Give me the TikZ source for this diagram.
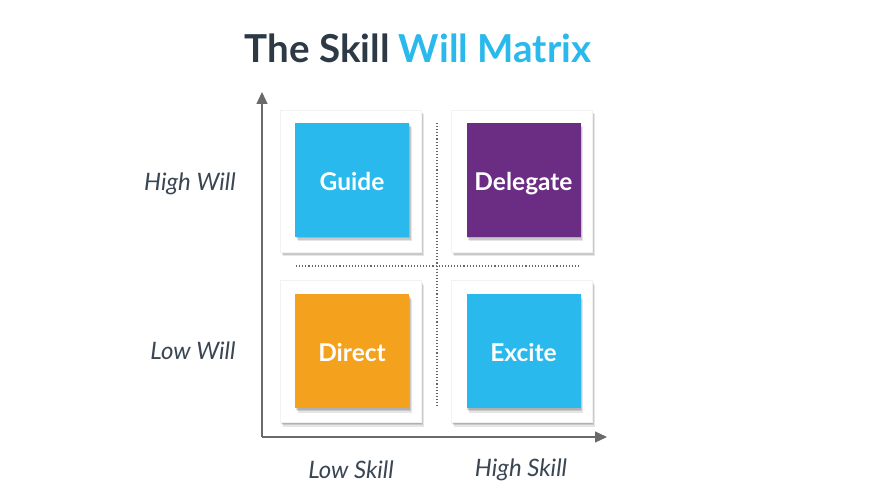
\documentclass[tikz,border=0pt]{standalone}
\usepackage{fontspec}
\setmainfont{Lato}
\usetikzlibrary{shadows,arrows.meta}
\definecolor{titledark}{HTML}{2D3A46}
\definecolor{skyblue}{HTML}{29B9EC}
\definecolor{purp}{HTML}{6B2D84}
\definecolor{orng}{HTML}{F4A11D}
\definecolor{labdark}{HTML}{3A4653}
\definecolor{axisgray}{HTML}{6A6A6A}
\tikzset{
  softshadow/.style={
    general shadow={shadow xshift=0.5pt, shadow yshift=-1.5pt, opacity=0.12, fill=black},
    general shadow={shadow xshift=1.5pt, shadow yshift=-3pt, opacity=0.12, fill=black},
    general shadow={shadow xshift=2.5pt, shadow yshift=-4.5pt, opacity=0.10, fill=black}},
  panel/.style={draw=black!5, fill=white, minimum width=141pt, minimum height=142pt, inner sep=0pt, softshadow},
  quad/.style={minimum width=114pt, minimum height=114pt, inner sep=0pt, text=white,
    text height=21.5pt, text depth=0pt,
    font=\fontsize{24.5}{28}\selectfont\bfseries, softshadow},
  axislabel/.style={text=labdark, font=\fontsize{24}{28}\selectfont\itshape, inner sep=0pt},
  axisline/.style={draw=axisgray, line width=1.3pt, -{Triangle[length=12pt,width=11pt]}},
  divider/.style={draw=black!60, line width=1.1pt, dotted}
}
\begin{document}
\begin{tikzpicture}[x=1pt,y=1pt]
\useasboundingbox[fill=white] (0,0) rectangle (886,496);
% title
\node (title) at (418,448) {\fontsize{38.5}{44}\selectfont\bfseries\textcolor{titledark}{The Skill} \textcolor{skyblue}{Will Matrix}};
% dividers
\coordinate (vtop) at (437,373);
\coordinate (vbot) at (437,88);
\coordinate (hleft) at (296,230);
\coordinate (hright) at (580,230);
\draw[divider] (vtop) -- (vbot);
\draw[divider] (hleft) -- (hright);
% panels
\node[panel] (p1) at (350.5,315) {};
\node[panel] (p2) at (522,315) {};
\node[panel] (p3) at (350.5,145) {};
\node[panel] (p4) at (522,145) {};
% quadrants
\node[quad, fill=skyblue] (guide) at (352,316) {Guide};
\node[quad, fill=purp] (delegate) at (523.5,316) {Delegate};
\node[quad, fill=orng] (direct) at (352,145) {Direct};
\node[quad, fill=skyblue] (excite) at (523.5,145) {Excite};
% axes
\coordinate (origin) at (262,59);
\coordinate (ytip) at (262,404);
\coordinate (xtip) at (607,59);
\draw[axisline] (origin) -- (ytip);
\draw[axisline] (origin) -- (xtip);
% labels
\node[axislabel] (hw) at (190,312) {High Will};
\node[axislabel] (lw) at (193,145) {Low Will};
\node[axislabel] (ls) at (351,26) {Low Skill};
\node[axislabel] (hs) at (521,26) {High Skill};
\end{tikzpicture}
\end{document}
